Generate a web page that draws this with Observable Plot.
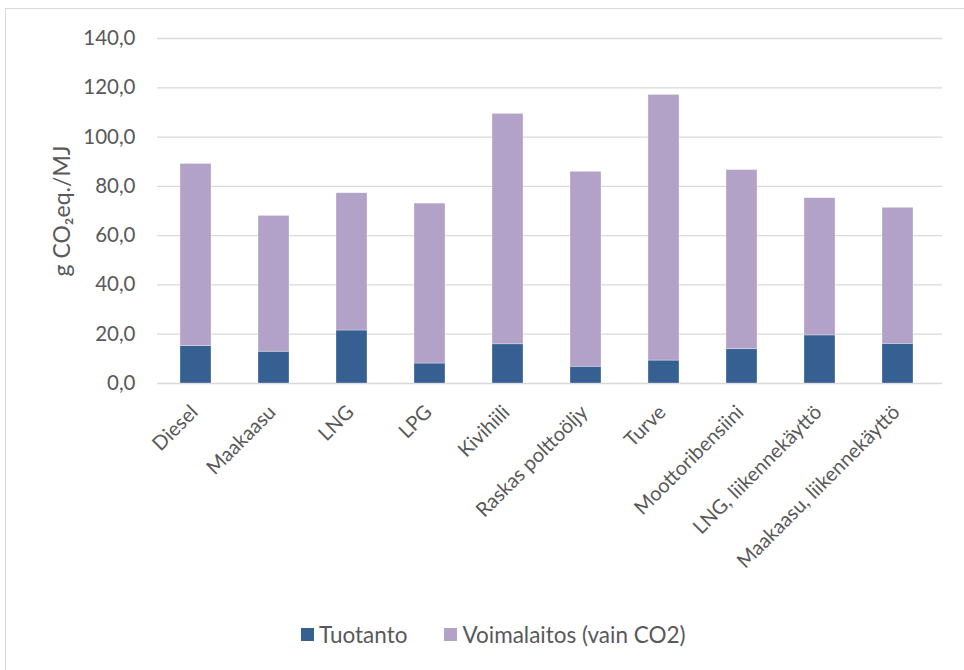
<!DOCTYPE html>
<html>
<head>
<meta charset="utf-8">
<script src="https://cdn.jsdelivr.net/npm/d3@7"></script>
<script src="https://cdn.jsdelivr.net/npm/@observablehq/plot@0.6"></script>
<style>
  html, body { margin: 0; padding: 0; background: #fff; }
  body { width: 964px; height: 670px; position: relative; overflow: hidden; font-family: Lato, "Open Sans", sans-serif; }
  #frame { position: absolute; left: 5px; top: 8px; width: 1000px; height: 700px; border-left: 1.5px solid #d9d9d9; border-top: 1.5px solid #d9d9d9; }
  #chart { position: absolute; left: 0; top: 0; }
  #legend { position: absolute; top: 621px; left: 301px; display: flex; align-items: center; font-size: 22.5px; color: #595959; }
  #legend .item { display: flex; align-items: center; margin-right: 37px; }
  #legend .sw { width: 13px; height: 13px; margin-right: 5px; }
</style>
</head>
<body>
<div id="frame"></div>
<div id="chart"></div>
<div id="legend"></div>
<script>
// Fuels, in display order
const categories = [
  "Diesel", "Maakaasu", "LNG", "LPG", "Kivihiili", "Raskas polttoöljy",
  "Turve", "Moottoribensiini", "LNG, liikennekäyttö", "Maakaasu, liikennekäyttö"
];
// Emission components, g CO2eq./MJ
const tuotanto    = [15.2, 12.9, 21.5, 8.1, 15.9, 6.8, 9.3, 13.9, 19.5, 16.1];
const voimalaitos = [73.9, 55.1, 55.7, 64.9, 93.5, 79.1, 107.8, 72.7, 55.7, 55.2];
const seriesNames = ["Tuotanto", "Voimalaitos (vain CO2)"];
const seriesColors = ["#366092", "#b3a2c7"];
const yTicks = [0, 20, 40, 60, 80, 100, 120, 140];

const rows = [];
categories.forEach((c, i) => {
  rows.push({fuel: c, series: seriesNames[0], value: tuotanto[i]});
  rows.push({fuel: c, series: seriesNames[1], value: voimalaitos[i]});
});

const fmt = d => d.toFixed(1).replace(".", ",");
const ink = "#595959";

const chart = Plot.plot({
  width: 964,
  height: 600,
  marginTop: 38,
  marginBottom: 217,
  marginLeft: 157,
  marginRight: 22,
  style: {fontFamily: "Lato, 'Open Sans', sans-serif", color: ink, background: "transparent"},
  x: {domain: categories, range: [157, 937], paddingInner: 0.6, paddingOuter: 0.3, axis: null},
  y: {domain: [0, 140], axis: null},
  color: {domain: seriesNames, range: seriesColors},
  marks: [
    Plot.ruleY(yTicks, {stroke: "#d9d9d9", strokeWidth: d => d === 0 ? 1.6 : 1.3}),
    Plot.barY(rows, {x: "fuel", y: "value", fill: "series", stroke: "#ffffff", strokeOpacity: 0.5, strokeWidth: 0.6}),
    Plot.axisY(yTicks, {tickSize: 0, tickPadding: 22, tickFormat: fmt, fontSize: 20.5, fill: ink, label: null}),
    Plot.text(categories, {
      x: d => d, frameAnchor: "bottom", rotate: -45, textAnchor: "end",
      dx: 3, dy: 30, fontSize: 20, fill: ink
    }),
    Plot.text(["g CO₂eq./MJ"], {
      frameAnchor: "left", textAnchor: "middle", rotate: -90, dx: -95, dy: 0, fontSize: 23, fill: ink
    })
  ]
});
document.getElementById("chart").append(chart);

const legend = document.getElementById("legend");
seriesNames.forEach((name, i) => {
  const item = document.createElement("div");
  item.className = "item";
  const sw = document.createElement("span");
  sw.className = "sw";
  sw.style.background = seriesColors[i];
  const label = document.createElement("span");
  label.textContent = name;
  item.append(sw, label);
  legend.append(item);
});
</script>
</body>
</html>
